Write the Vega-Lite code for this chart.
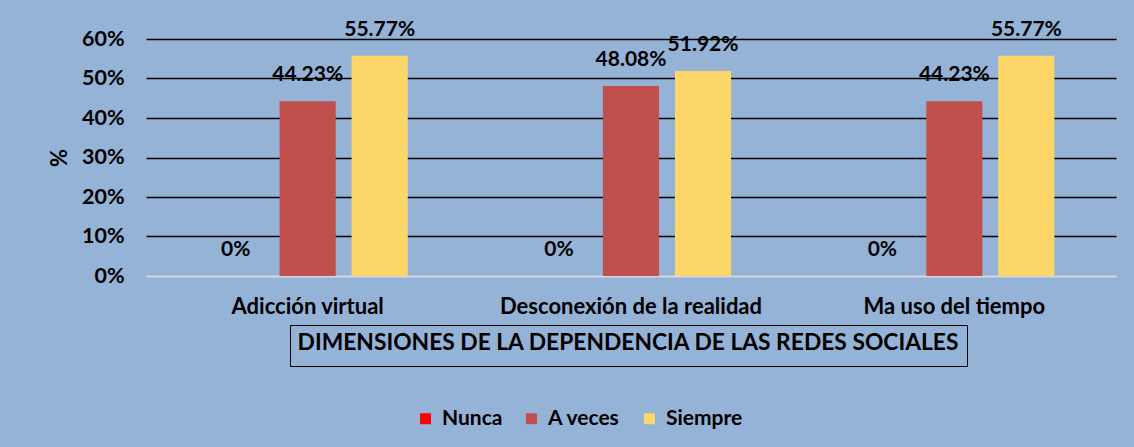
{
  "$schema": "https://vega.github.io/schema/vega-lite/v6.json",
  "width": 970,
  "height": 237,
  "autosize": {"type": "none"},
  "padding": {"left": 146, "top": 39, "right": 18, "bottom": 171},
  "background": "#95B3D7",
  "config": {
    "font": "Lato",
    "view": {"stroke": null},
    "axis": {"labelFont": "Lato", "titleFont": "Lato", "labelFontWeight": "bold", "titleFontWeight": "bold", "labelColor": "black", "titleColor": "black"},
    "legend": {"labelFont": "Lato", "titleFont": "Lato"}
  },
  "data": {
    "values": [
      {"dim": "Adicción virtual", "resp": "Nunca", "v": 0, "g": "t"},
      {"dim": "Adicción virtual", "resp": "A veces", "v": 0.4423, "g": "t"},
      {"dim": "Adicción virtual", "resp": "Siempre", "v": 0.5577, "g": "t"},
      {"dim": "Desconexión de la realidad", "resp": "Nunca", "v": 0, "g": "t"},
      {"dim": "Desconexión de la realidad", "resp": "A veces", "v": 0.4808, "g": "t"},
      {"dim": "Desconexión de la realidad", "resp": "Siempre", "v": 0.5192, "g": "t"},
      {"dim": "Ma uso del tiempo", "resp": "Nunca", "v": 0, "g": "t"},
      {"dim": "Ma uso del tiempo", "resp": "A veces", "v": 0.4423, "g": "t"},
      {"dim": "Ma uso del tiempo", "resp": "Siempre", "v": 0.5577, "g": "t"}
    ]
  },
  "encoding": {
    "x": {
      "field": "dim", "type": "nominal", "sort": null,
      "scale": {"paddingInner": 0.332, "paddingOuter": 0.166},
      "axis": {"title": null, "labelAngle": 0, "labelFontSize": 22, "labelPadding": 20, "labelLimit": 400, "ticks": false, "domainColor": "#D9D9D9", "domainWidth": 1.5}
    },
    "xOffset": {"field": "resp", "type": "nominal", "sort": ["Nunca", "A veces", "Siempre"], "scale": {"paddingInner": 0.22, "paddingOuter": 0.11}},
    "y": {
      "field": "v", "type": "quantitative",
      "scale": {"domain": [0, 0.6]},
      "axis": {"title": "%", "format": ".0%", "values": [0, 0.1, 0.2, 0.3, 0.4, 0.5, 0.6], "labelFontSize": 21.5, "titleFontSize": 22, "labelPadding": 22, "titlePadding": 10, "ticks": false, "domain": false,
        "gridColor": {"condition": {"test": "datum.value === 0", "value": "#D9D9D9"}, "value": "black"}, "gridWidth": 1.4}
    }
  },
  "layer": [
    {
      "mark": {"type": "bar"},
      "encoding": {
        "color": {
          "field": "resp", "type": "nominal",
          "scale": {"domain": ["Nunca", "A veces", "Siempre"], "range": ["#FF0000", "#C0504D", "#FCD668"]},
          "legend": {"title": null, "orient": "none", "legendX": 269, "legendY": 369, "direction": "horizontal", "symbolType": "square", "symbolSize": 120, "symbolStrokeWidth": 0, "labelFontSize": 21, "labelFontWeight": "bold", "labelColor": "black", "columnPadding": 18, "symbolOffset": 0, "labelOffset": 6, "labelLimit": 300}
        },
        "opacity": {
          "field": "g", "type": "nominal",
          "scale": {"domain": ["t"], "range": [1]},
          "legend": {"title": "DIMENSIONES DE LA DEPENDENCIA DE LAS REDES SOCIALES", "orient": "none", "legendX": 144, "legendY": 286, "titleOrient": "top", "titleAnchor": "middle", "titleFontSize": 22.8, "titleFontWeight": "bold", "titleColor": "black", "titlePadding": 0, "titleLimit": 2000, "symbolSize": 0, "symbolOpacity": 0, "labelExpr": "''", "labelFontSize": 1, "labelOffset": 0, "strokeColor": "black", "padding": 7,
            "encode": {"legend": {"update": {"strokeWidth": {"value": 2}}}}}
        }
      }
    },
    {
      "mark": {"type": "text", "baseline": "bottom", "dy": -16, "fontSize": 21, "fontWeight": "bold", "color": "black"},
      "encoding": {
        "text": {"field": "v", "type": "quantitative", "format": ".2~%"}
      }
    }
  ]
}
